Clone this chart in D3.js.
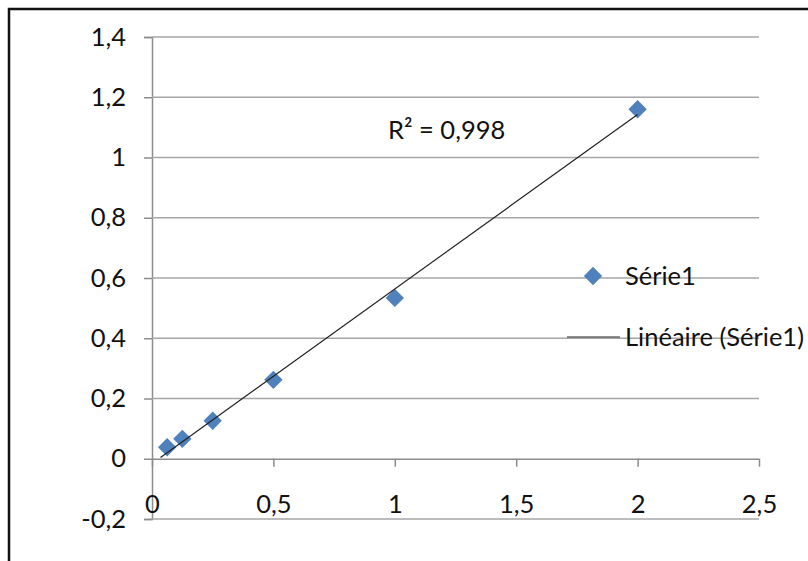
<!DOCTYPE html>
<html>
<head>
<meta charset="utf-8">
<script src="https://cdn.jsdelivr.net/npm/d3@7"></script>
<style>
  body { margin: 0; background: #fff; }
  text { font-family: Lato, "Open Sans", sans-serif; fill: #111; }
</style>
</head>
<body>
<div id="chart"></div>
<script>
// data
const xValues = [0.0625, 0.125, 0.25, 0.5, 1, 2];
const yValues = [0.038, 0.066, 0.126, 0.262, 0.534, 1.16];
const xTicks = [0, 0.5, 1, 1.5, 2, 2.5];
const yTicks = [-0.2, 0, 0.2, 0.4, 0.6, 0.8, 1, 1.2, 1.4];
const seriesName = "Série1";
const trendName = "Linéaire (Série1)";
const trendStart = 0.035;

const width = 808;
const height = 561;
const fontSize = 25.5;

const svg = d3.select("#chart")
    .append("svg")
    .attr("width", width)
    .attr("height", height);

// outer frame
svg.append("rect")
    .attr("x", 9)
    .attr("y", 9)
    .attr("width", width + 20)
    .attr("height", height + 20)
    .attr("fill", "none")
    .attr("stroke", "#111")
    .attr("stroke-width", 2.5);

const x = d3.scaleLinear().domain([0, 2.5]).range([152, 759]);
const y = d3.scaleLinear().domain([-0.2, 1.4]).range([519, 37]);

const fmt = d => String(d).replace(".", ",");

// y axis
const yAxis = d3.axisLeft(y)
    .tickValues(yTicks)
    .tickSize(8)
    .tickFormat(fmt);

const gy = svg.append("g")
    .attr("transform", `translate(${x(0)},0)`)
    .call(yAxis);
gy.select(".domain").attr("stroke", "#8c8c8c").attr("stroke-width", 1.5);
gy.selectAll(".tick line").attr("stroke", "#8c8c8c").attr("stroke-width", 1.5);
gy.selectAll(".tick text")
    .attr("x", -26)
    .attr("font-size", fontSize)
    .attr("font-family", "Lato, sans-serif")
    .attr("fill", "#111");

// horizontal gridlines
svg.append("g")
    .selectAll("line")
    .data(yTicks.filter(d => d !== 0))
    .enter()
    .append("line")
    .attr("x1", x(0))
    .attr("x2", x(2.5))
    .attr("y1", d => y(d))
    .attr("y2", d => y(d))
    .attr("stroke", "#a6a6a6")
    .attr("stroke-width", 1.5);

// x axis at y=0
const xAxis = d3.axisBottom(x)
    .tickValues(xTicks)
    .tickSize(8)
    .tickSizeOuter(0)
    .tickFormat(fmt);

const gx = svg.append("g")
    .attr("transform", `translate(0,${y(0)})`)
    .call(xAxis);
gx.select(".domain").attr("stroke", "#8c8c8c").attr("stroke-width", 1.5);
gx.selectAll(".tick line").attr("stroke", "#8c8c8c").attr("stroke-width", 1.5);
gx.selectAll(".tick text")
    .attr("y", 36)
    .attr("font-size", fontSize)
    .attr("font-family", "Lato, sans-serif")
    .attr("fill", "#111");

// linear regression
const n = xValues.length;
const mx = d3.mean(xValues);
const my = d3.mean(yValues);
let sxy = 0, sxx = 0, syy = 0;
for (let i = 0; i < n; i++) {
    sxy += (xValues[i] - mx) * (yValues[i] - my);
    sxx += (xValues[i] - mx) ** 2;
    syy += (yValues[i] - my) ** 2;
}
const slope = sxy / sxx;
const intercept = my - slope * mx;
const r2 = (sxy * sxy) / (sxx * syy);

const points = xValues.map((d, i) => ({ x: d, y: yValues[i] }));

const diamond = d3.symbol().type(d3.symbolDiamond2).size(215);

svg.selectAll(".pt")
    .data(points)
    .enter()
    .append("path")
    .attr("class", "pt")
    .attr("d", diamond)
    .attr("transform", d => `translate(${x(d.x)},${y(d.y)})`)
    .attr("fill", "#4f81bd");

const xEnd = d3.max(xValues);
svg.append("line")
    .attr("x1", x(trendStart))
    .attr("y1", y(intercept + slope * trendStart))
    .attr("x2", x(xEnd))
    .attr("y2", y(intercept + slope * xEnd))
    .attr("stroke", "#222")
    .attr("stroke-width", 1.2);

// R² label
svg.append("text")
    .attr("x", 388)
    .attr("y", 139)
    .attr("font-size", fontSize)
    .text("R² = " + r2.toFixed(3).replace(".", ","));

// legend
svg.append("path")
    .attr("d", diamond)
    .attr("transform", "translate(593,276)")
    .attr("fill", "#4f81bd");
svg.append("text")
    .attr("x", 625)
    .attr("y", 285)
    .attr("font-size", fontSize)
    .text(seriesName);

svg.append("line")
    .attr("x1", 567)
    .attr("x2", 620)
    .attr("y1", 337)
    .attr("y2", 337)
    .attr("stroke", "#222")
    .attr("stroke-width", 1.2);
svg.append("text")
    .attr("x", 625)
    .attr("y", 346)
    .attr("font-size", fontSize)
    .text(trendName);
</script>
</body>
</html>
